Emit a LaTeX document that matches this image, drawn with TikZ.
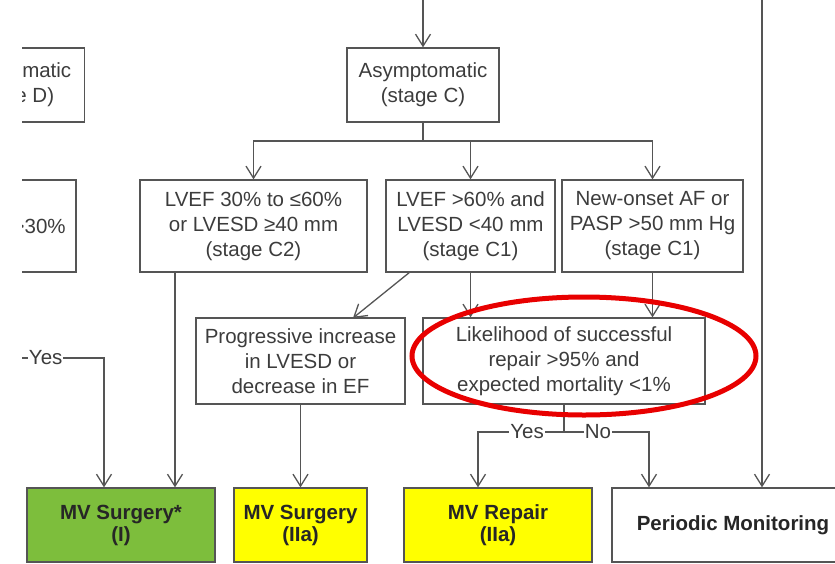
\documentclass[tikz,border=0pt]{standalone}
\usepackage{fontspec}
\setmainfont{Liberation Sans}
\usetikzlibrary{arrows.meta}

\definecolor{lineg}{RGB}{85,85,85}
\definecolor{textg}{RGB}{60,60,60}
\definecolor{surggreen}{RGB}{125,190,60}
\definecolor{hiyellow}{RGB}{255,255,0}
\definecolor{circred}{RGB}{232,0,0}

\begin{document}
\begin{tikzpicture}[x=1pt, y=-1pt,
  box/.style={draw=lineg, line width=1.3pt, align=center, inner sep=2pt,
    text=textg, font=\fontsize{20.5}{25}\selectfont},
  rec/.style={draw=lineg, line width=1.3pt, align=center, minimum height=74pt,
    text=black!85, font=\bfseries\fontsize{20.5}{22}\selectfont},
  conn/.style={draw=lineg, line width=1.3pt},
  arr/.style={conn, -{Straight Barb[length=12pt, width=15pt]}},
  lbl/.style={fill=white, inner sep=1pt, text=textg,
    font=\fontsize{20.5}{25}\selectfont}
]
\useasboundingbox (0,0) rectangle (835,563);
\clip (22,0) rectangle (835,563);

% stages
\node[box, minimum width=145pt, minimum height=74pt] (stageD) at (12,85)
  {Symptomatic\\(stage D)};
\node[box, minimum width=129pt, minimum height=92pt] (lowEF) at (11.5,226)
  {LVEF >30\%};
\node[box, minimum width=152pt, minimum height=74pt] (asym) at (423,85)
  {Asymptomatic\\(stage C)};
\node[box, minimum width=227pt, minimum height=92pt] (stageC2) at (253.5,226)
  {LVEF 30\% to ≤60\%\\or LVESD ≥40 mm\\(stage C2)};
\node[box, minimum width=169pt, minimum height=92pt] (stageC1a) at (470.5,226)
  {LVEF >60\% and\\LVESD <40 mm\\(stage C1)};
\node[box, minimum width=181pt, minimum height=92pt] (stageC1b) at (652.5,226)
  {New-onset AF or\\PASP >50 mm Hg\\(stage C1)};
\node[box, minimum width=209pt, minimum height=86pt] (prog) at (300.5,361)
  {Progressive increase\\in LVESD or\\decrease in EF};
\node[box, minimum width=282pt, minimum height=86pt] (likely) at (564,361)
  {Likelihood of successful\\repair >95\% and\\expected mortality <1\%};

% recommendations
\node[rec, fill=surggreen, minimum width=188pt] (surg1) at (121,525)
  {MV Surgery*\\(I)};
\node[rec, fill=hiyellow, minimum width=133pt] (surg2) at (300.5,525)
  {MV Surgery\\(IIa)};
\node[rec, fill=hiyellow, minimum width=188pt] (repair) at (498,525)
  {MV Repair\\(IIa)};
\node[rec, fill=white, minimum width=242pt] (monit) at (733,525)
  {Periodic Monitoring};

% connectors
\coordinate (asymin) at (423,0);
\coordinate (monin) at (762,0);
\coordinate (split) at (423,141);
\coordinate (yesin) at (10,358);
\coordinate (yesbend) at (104,358);
\coordinate (c2out) at (175,272);
\coordinate (c1aout) at (410,272);
\coordinate (progin) at (353,318);
\coordinate (yn) at (564,432);
\coordinate (yesrep) at (478,432);
\coordinate (nomon) at (649,432);

\draw[arr] (asymin) -- (asym.north);
\draw[conn] (asym.south) -- (split);
\draw[arr] (split) -| (stageC2.north);
\draw[arr] (split) -| (stageC1b.north);
\draw[arr] (split -| stageC1a.north) -- (stageC1a.north);
\draw[arr] (monin) -- (monin |- monit.north);
\draw[arr] (yesin) -- node[lbl, pos=0.38] {Yes} (yesbend) -- (yesbend |- surg1.north);
\draw[arr] (c2out) -- (c2out |- surg1.north);
\draw[arr] (c1aout) -- (progin);
\draw[arr] (stageC1a.south) -- (stageC1a.south |- likely.north);
\draw[arr] (stageC1b.south) -- (stageC1b.south |- likely.north);
\draw[arr] (prog.south) -- (surg2.north);
\draw[conn] (likely.south) -- (yn);
\draw[arr] (yn) -- node[lbl, pos=0.43] {Yes} (yesrep) -- (yesrep |- repair.north);
\draw[arr] (yn) -- node[lbl, pos=0.4] {No} (nomon) -- (nomon |- monit.north);

% highlight
\draw[circred, line width=5pt] (584,356) ellipse [x radius=172pt, y radius=59pt];
\end{tikzpicture}
\end{document}
